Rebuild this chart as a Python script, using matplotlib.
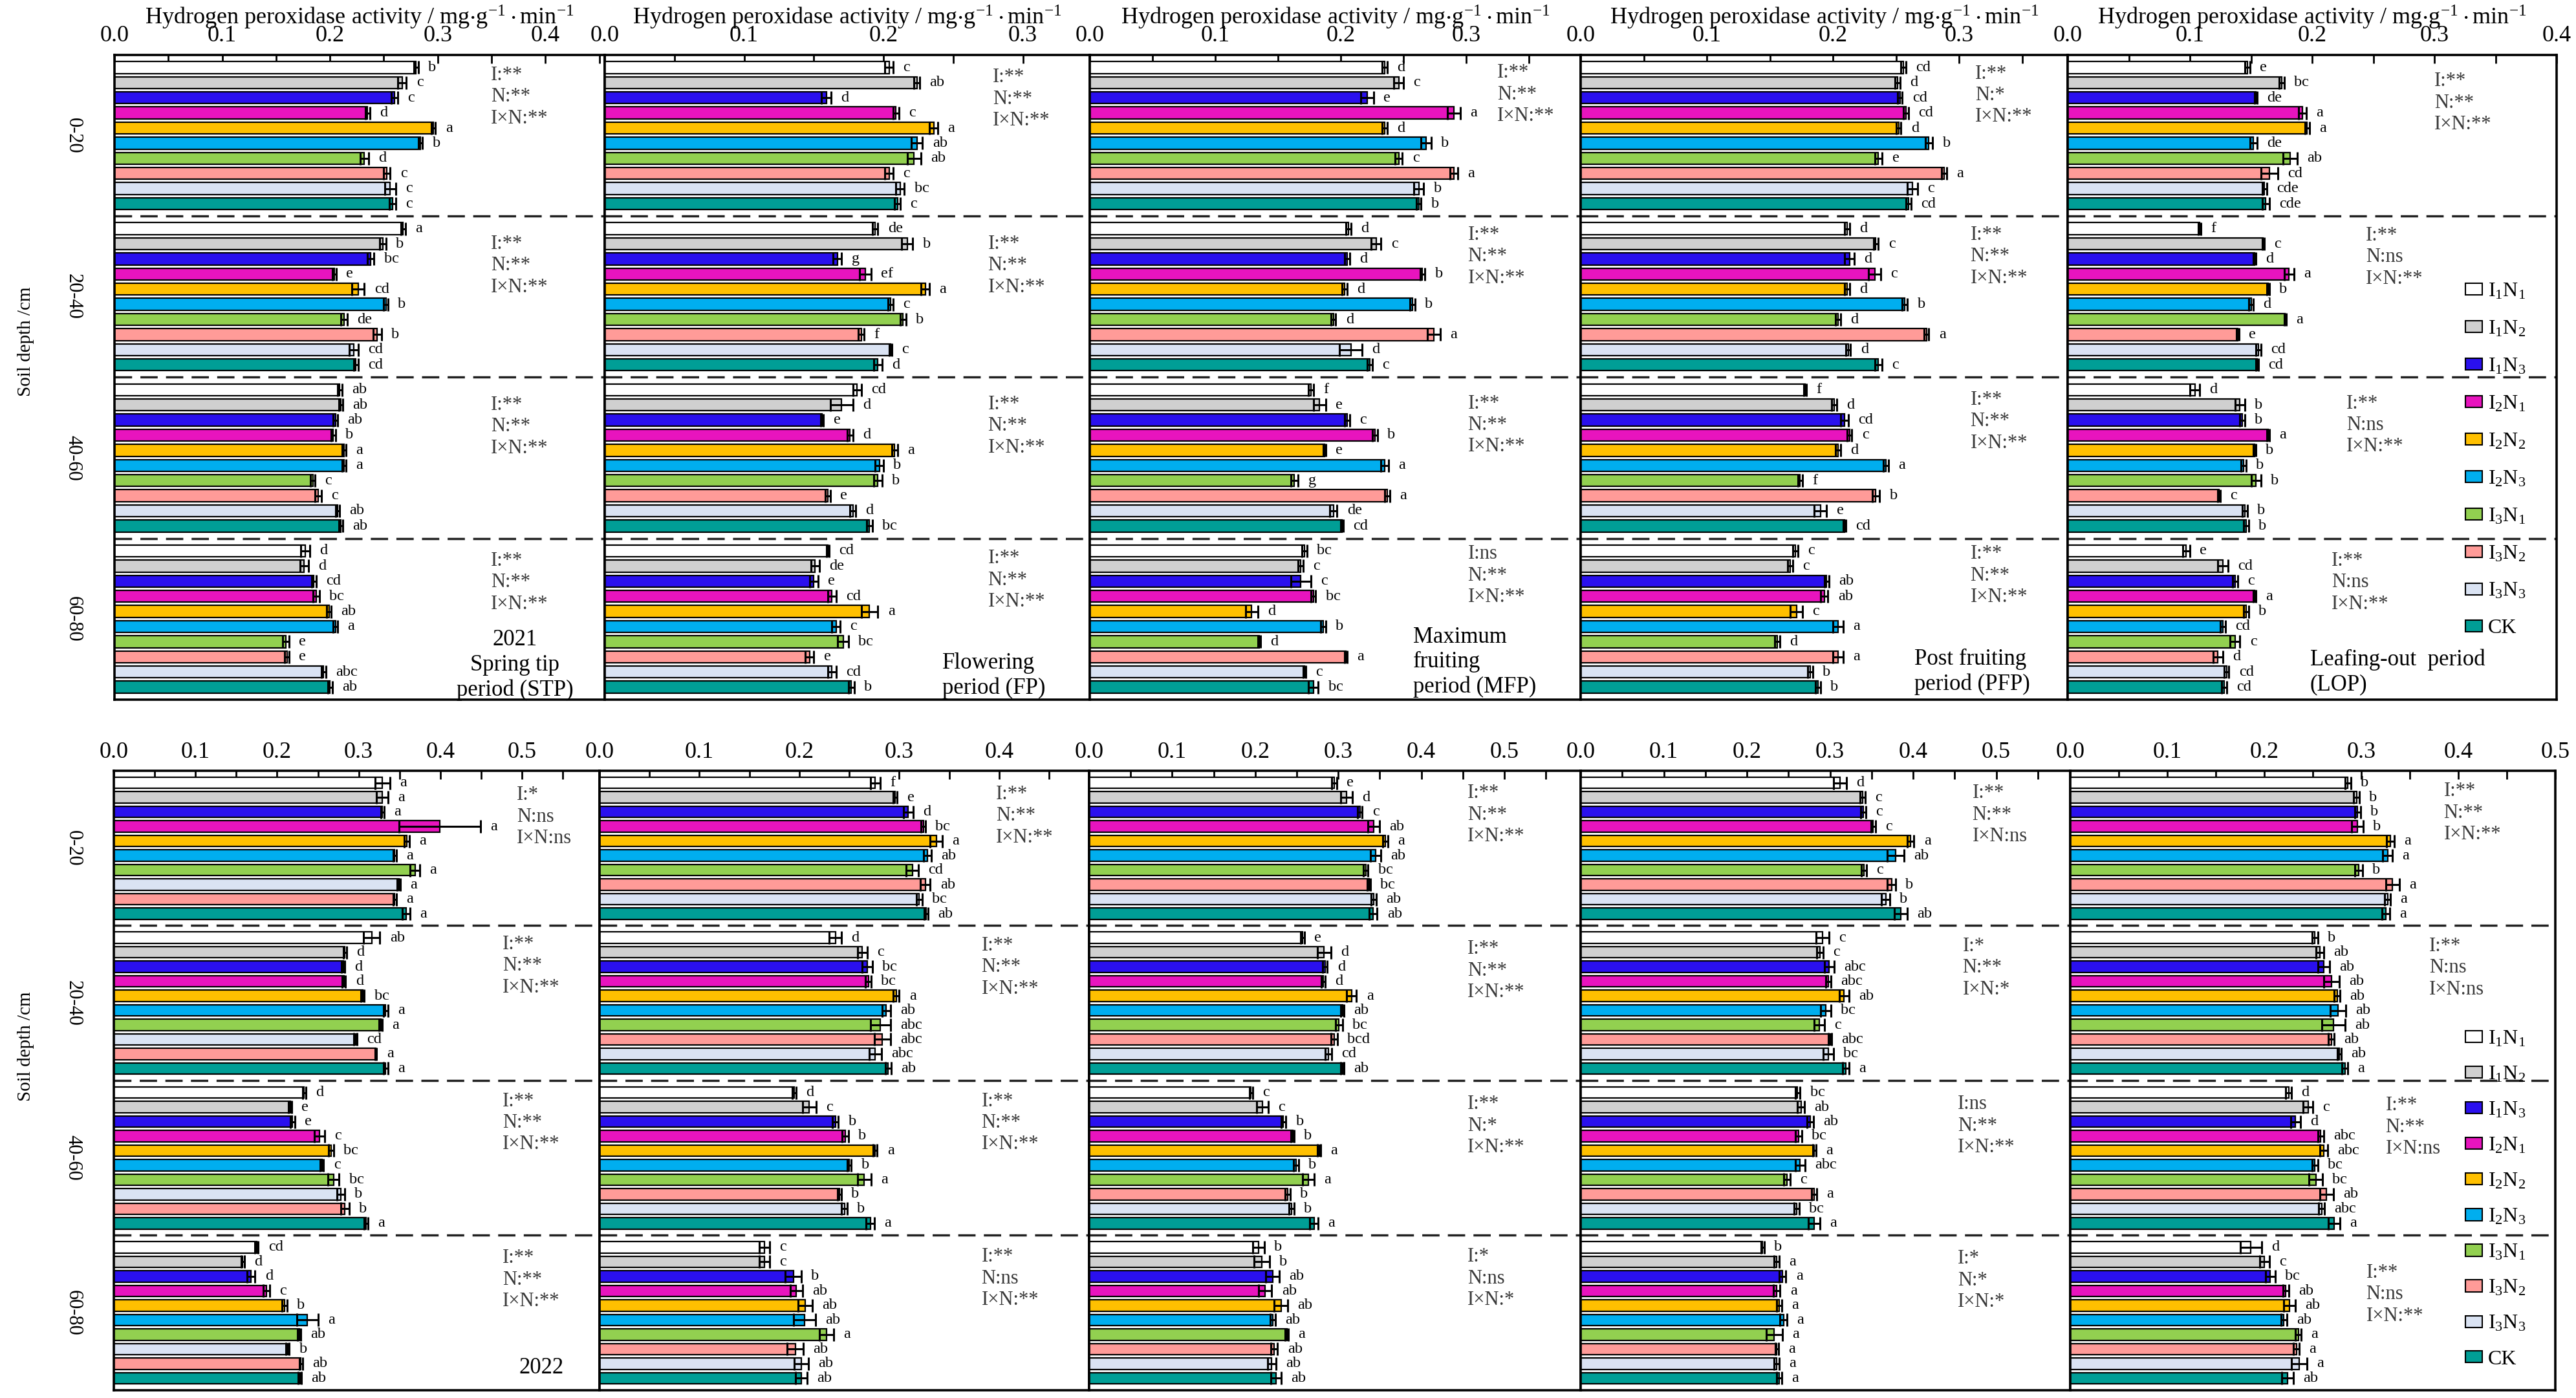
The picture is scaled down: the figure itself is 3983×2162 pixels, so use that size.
import numpy as np
import matplotlib.pyplot as plt
from matplotlib.patches import Patch
from matplotlib.ticker import FormatStrFormatter
from matplotlib.transforms import blended_transform_factory

plt.rcParams['font.family'] = ['Liberation Serif', 'DejaVu Serif']
plt.rcParams['mathtext.fontset'] = 'stix'

treatments = ['I1N1', 'I1N2', 'I1N3', 'I2N1', 'I2N2', 'I2N3', 'I3N1', 'I3N2', 'I3N3', 'CK']
legend_labels = [r'$\mathregular{I_1N_1}$', r'$\mathregular{I_1N_2}$', r'$\mathregular{I_1N_3}$',
                 r'$\mathregular{I_2N_1}$', r'$\mathregular{I_2N_2}$', r'$\mathregular{I_2N_3}$',
                 r'$\mathregular{I_3N_1}$', r'$\mathregular{I_3N_2}$', r'$\mathregular{I_3N_3}$', 'CK']
colors = {'I1N1': '#FFFFFF', 'I1N2': '#D0D0D0', 'I1N3': '#2A10EE', 'I2N1': '#E814BE',
          'I2N2': '#FFC000', 'I2N3': '#00AEEF', 'I3N1': '#92D050', 'I3N2': '#FF9B98',
          'I3N3': '#DAE3F3', 'CK': '#009E96'}
depths = ['0-20', '20-40', '40-60', '60-80']

# ---- 2021 ----
stp_2021 = [[0.280, 0.267, 0.260, 0.235, 0.296, 0.284, 0.232, 0.253, 0.256, 0.258],
            [0.268, 0.249, 0.238, 0.204, 0.226, 0.252, 0.213, 0.244, 0.222, 0.224],
            [0.209, 0.210, 0.205, 0.203, 0.213, 0.213, 0.184, 0.189, 0.207, 0.210],
            [0.177, 0.176, 0.185, 0.187, 0.199, 0.205, 0.159, 0.160, 0.194, 0.200]]
stp_2021_err = [[0.002, 0.004, 0.003, 0.002, 0.002, 0.002, 0.004, 0.003, 0.005, 0.003],
                [0.002, 0.003, 0.003, 0.002, 0.006, 0.002, 0.003, 0.004, 0.004, 0.002],
                [0.002, 0.002, 0.002, 0.002, 0.002, 0.002, 0.002, 0.003, 0.002, 0.002],
                [0.004, 0.004, 0.002, 0.003, 0.002, 0.002, 0.003, 0.002, 0.002, 0.002]]
stp_2021_sig = [['b', 'c', 'c', 'd', 'a', 'b', 'd', 'c', 'c', 'c'],
                ['a', 'b', 'bc', 'e', 'cd', 'b', 'de', 'b', 'cd', 'cd'],
                ['ab', 'ab', 'ab', 'b', 'a', 'a', 'c', 'c', 'ab', 'ab'],
                ['d', 'd', 'cd', 'bc', 'ab', 'a', 'e', 'e', 'abc', 'ab']]
stp_2021_anova = [('**', '**', '**'), ('**', '**', '**'), ('**', '**', '**'), ('**', '**', '**')]

fp_2021 = [[0.204, 0.224, 0.159, 0.209, 0.236, 0.224, 0.222, 0.204, 0.212, 0.210],
           [0.194, 0.217, 0.167, 0.187, 0.230, 0.205, 0.214, 0.184, 0.205, 0.196],
           [0.181, 0.170, 0.156, 0.176, 0.208, 0.197, 0.196, 0.160, 0.178, 0.190],
           [0.160, 0.151, 0.150, 0.163, 0.190, 0.166, 0.171, 0.147, 0.163, 0.177]]
fp_2021_err = [[0.003, 0.002, 0.0035, 0.002, 0.003, 0.004, 0.005, 0.003, 0.003, 0.002],
               [0.002, 0.004, 0.003, 0.004, 0.003, 0.002, 0.002, 0.002, 0.001, 0.003],
               [0.003, 0.008, 0.001, 0.002, 0.002, 0.003, 0.003, 0.002, 0.002, 0.002],
               [0.001, 0.003, 0.003, 0.003, 0.006, 0.003, 0.004, 0.003, 0.003, 0.002]]
fp_2021_sig = [['c', 'ab', 'd', 'c', 'a', 'ab', 'ab', 'c', 'bc', 'c'],
               ['de', 'b', 'g', 'ef', 'a', 'c', 'b', 'f', 'c', 'd'],
               ['cd', 'd', 'e', 'd', 'a', 'b', 'b', 'e', 'd', 'bc'],
               ['cd', 'de', 'e', 'cd', 'a', 'c', 'bc', 'e', 'cd', 'b']]
fp_2021_anova = [('**', '**', '**'), ('**', '**', '**'), ('**', '**', '**'), ('**', '**', '**')]

mfp_2021 = [[0.235, 0.246, 0.221, 0.290, 0.235, 0.268, 0.246, 0.290, 0.262, 0.262],
            [0.206, 0.228, 0.205, 0.265, 0.203, 0.257, 0.194, 0.274, 0.208, 0.223],
            [0.176, 0.183, 0.205, 0.227, 0.187, 0.235, 0.163, 0.237, 0.194, 0.201],
            [0.171, 0.168, 0.168, 0.178, 0.129, 0.186, 0.135, 0.204, 0.171, 0.178]]
mfp_2021_err = [[0.002, 0.004, 0.005, 0.005, 0.002, 0.004, 0.003, 0.003, 0.004, 0.002],
                [0.002, 0.004, 0.002, 0.002, 0.002, 0.002, 0.002, 0.005, 0.009, 0.002],
                [0.002, 0.005, 0.002, 0.002, 0.001, 0.003, 0.003, 0.002, 0.003, 0.001],
                [0.002, 0.002, 0.008, 0.002, 0.005, 0.002, 0.001, 0.001, 0.001, 0.004]]
mfp_2021_sig = [['d', 'c', 'e', 'a', 'd', 'b', 'c', 'a', 'b', 'b'],
                ['d', 'c', 'd', 'b', 'd', 'b', 'd', 'a', 'd', 'c'],
                ['f', 'e', 'c', 'b', 'e', 'a', 'g', 'a', 'de', 'cd'],
                ['bc', 'c', 'c', 'bc', 'd', 'b', 'd', 'a', 'c', 'bc']]
mfp_2021_anova = [('**', '**', '**'), ('**', '**', '**'), ('**', '**', '**'), ('ns', '**', '**')]

pfp_2021 = [[0.256, 0.251, 0.253, 0.258, 0.252, 0.276, 0.236, 0.288, 0.263, 0.260],
            [0.211, 0.234, 0.213, 0.233, 0.211, 0.257, 0.204, 0.274, 0.212, 0.236],
            [0.178, 0.201, 0.209, 0.213, 0.204, 0.242, 0.174, 0.234, 0.190, 0.209],
            [0.170, 0.166, 0.195, 0.193, 0.171, 0.204, 0.156, 0.204, 0.182, 0.188]]
pfp_2021_err = [[0.002, 0.002, 0.002, 0.002, 0.002, 0.003, 0.003, 0.002, 0.004, 0.002],
                [0.002, 0.002, 0.004, 0.005, 0.002, 0.002, 0.002, 0.002, 0.002, 0.003],
                [0.001, 0.002, 0.003, 0.002, 0.002, 0.002, 0.002, 0.003, 0.005, 0.001],
                [0.002, 0.002, 0.002, 0.003, 0.005, 0.004, 0.002, 0.004, 0.002, 0.002]]
pfp_2021_sig = [['cd', 'd', 'cd', 'cd', 'd', 'b', 'e', 'a', 'c', 'cd'],
                ['d', 'c', 'd', 'c', 'd', 'b', 'd', 'a', 'd', 'c'],
                ['f', 'd', 'cd', 'c', 'd', 'a', 'f', 'b', 'e', 'cd'],
                ['c', 'c', 'ab', 'ab', 'c', 'a', 'd', 'a', 'b', 'b']]
pfp_2021_anova = [('**', '*', '**'), ('**', '**', '**'), ('**', '**', '**'), ('**', '**', '**')]

lop_2021 = [[0.147, 0.175, 0.154, 0.192, 0.196, 0.152, 0.182, 0.165, 0.161, 0.162],
            [0.108, 0.160, 0.153, 0.181, 0.164, 0.150, 0.178, 0.139, 0.156, 0.155],
            [0.104, 0.141, 0.143, 0.164, 0.153, 0.144, 0.154, 0.124, 0.145, 0.146],
            [0.097, 0.127, 0.137, 0.153, 0.146, 0.127, 0.137, 0.123, 0.130, 0.128]]
lop_2021_err = [[0.002, 0.002, 0.001, 0.003, 0.002, 0.003, 0.006, 0.007, 0.002, 0.003],
                [0.001, 0.001, 0.001, 0.004, 0.001, 0.002, 0.001, 0.001, 0.002, 0.001],
                [0.004, 0.004, 0.002, 0.001, 0.001, 0.002, 0.004, 0.001, 0.002, 0.002],
                [0.003, 0.004, 0.002, 0.001, 0.002, 0.002, 0.004, 0.004, 0.002, 0.002]]
lop_2021_sig = [['e', 'bc', 'de', 'a', 'a', 'de', 'ab', 'cd', 'cde', 'cde'],
                ['f', 'c', 'd', 'a', 'b', 'd', 'a', 'e', 'cd', 'cd'],
                ['d', 'b', 'b', 'a', 'b', 'b', 'b', 'c', 'b', 'b'],
                ['e', 'cd', 'c', 'a', 'b', 'cd', 'c', 'd', 'cd', 'cd']]
lop_2021_anova = [('**', '**', '**'), ('**', 'ns', '**'), ('**', 'ns', '**'), ('**', 'ns', '**')]

# ---- 2022 ----
stp_2022_order = ['I1N1', 'I1N2', 'I1N3', 'I2N1', 'I2N2', 'I2N3', 'I3N1', 'I3N3', 'I3N2', 'CK']
stp_2022 = [[0.329, 0.329, 0.329, 0.399, 0.359, 0.344, 0.369, 0.349, 0.344, 0.358],
            [0.316, 0.283, 0.281, 0.282, 0.305, 0.333, 0.327, 0.296, 0.321, 0.333],
            [0.233, 0.216, 0.219, 0.252, 0.266, 0.255, 0.269, 0.278, 0.283, 0.309],
            [0.175, 0.158, 0.168, 0.187, 0.209, 0.237, 0.227, 0.213, 0.229, 0.228]]
stp_2022_err = [[0.009, 0.007, 0.002, 0.050, 0.003, 0.002, 0.006, 0.002, 0.002, 0.005],
                [0.010, 0.002, 0.002, 0.002, 0.002, 0.003, 0.002, 0.002, 0.001, 0.003],
                [0.002, 0.002, 0.003, 0.006, 0.003, 0.002, 0.007, 0.005, 0.005, 0.002],
                [0.002, 0.002, 0.005, 0.004, 0.003, 0.013, 0.002, 0.002, 0.002, 0.002]]
stp_2022_sig = [['a', 'a', 'a', 'a', 'a', 'a', 'a', 'a', 'a', 'a'],
                ['ab', 'd', 'd', 'd', 'bc', 'a', 'a', 'cd', 'a', 'a'],
                ['d', 'e', 'e', 'c', 'bc', 'c', 'bc', 'b', 'b', 'a'],
                ['cd', 'd', 'd', 'c', 'b', 'a', 'ab', 'b', 'ab', 'ab']]
stp_2022_anova = [('*', 'ns', 'ns'), ('**', '**', '**'), ('**', '**', '**'), ('**', '**', '**')]

fp_2022 = [[0.276, 0.296, 0.309, 0.324, 0.337, 0.328, 0.313, 0.326, 0.320, 0.327],
           [0.236, 0.263, 0.268, 0.269, 0.297, 0.287, 0.281, 0.283, 0.276, 0.289],
           [0.195, 0.210, 0.236, 0.246, 0.276, 0.250, 0.265, 0.240, 0.245, 0.271],
           [0.165, 0.165, 0.194, 0.197, 0.206, 0.205, 0.227, 0.196, 0.202, 0.202]]
fp_2022_err = [[0.005, 0.002, 0.005, 0.002, 0.006, 0.004, 0.006, 0.005, 0.003, 0.002],
               [0.006, 0.005, 0.005, 0.003, 0.003, 0.004, 0.010, 0.008, 0.006, 0.003],
               [0.002, 0.007, 0.003, 0.003, 0.002, 0.002, 0.007, 0.002, 0.003, 0.004],
               [0.005, 0.005, 0.008, 0.006, 0.007, 0.011, 0.007, 0.008, 0.007, 0.006]]
fp_2022_sig = [['f', 'e', 'd', 'bc', 'a', 'ab', 'cd', 'ab', 'bc', 'ab'],
               ['d', 'c', 'bc', 'bc', 'a', 'ab', 'abc', 'abc', 'abc', 'ab'],
               ['d', 'c', 'b', 'b', 'a', 'b', 'a', 'b', 'b', 'a'],
               ['c', 'c', 'b', 'ab', 'ab', 'ab', 'a', 'ab', 'ab', 'ab']]
fp_2022_anova = [('**', '**', '**'), ('**', '**', '**'), ('**', '**', '**'), ('**', 'ns', '**')]

mfp_2022 = [[0.295, 0.310, 0.326, 0.343, 0.357, 0.345, 0.333, 0.337, 0.343, 0.342],
            [0.257, 0.283, 0.284, 0.282, 0.316, 0.305, 0.301, 0.295, 0.288, 0.305],
            [0.195, 0.209, 0.234, 0.245, 0.277, 0.249, 0.264, 0.239, 0.244, 0.271],
            [0.204, 0.208, 0.221, 0.212, 0.231, 0.221, 0.238, 0.223, 0.220, 0.225]]
mfp_2022_err = [[0.003, 0.007, 0.003, 0.007, 0.003, 0.006, 0.003, 0.002, 0.003, 0.005],
                [0.002, 0.008, 0.003, 0.002, 0.006, 0.002, 0.004, 0.004, 0.004, 0.002],
                [0.002, 0.007, 0.003, 0.002, 0.002, 0.003, 0.007, 0.003, 0.003, 0.005],
                [0.007, 0.009, 0.008, 0.008, 0.008, 0.003, 0.002, 0.004, 0.005, 0.006]]
mfp_2022_sig = [['e', 'd', 'c', 'ab', 'a', 'ab', 'bc', 'bc', 'ab', 'ab'],
                ['e', 'd', 'd', 'd', 'a', 'ab', 'bc', 'bcd', 'cd', 'ab'],
                ['c', 'c', 'b', 'b', 'a', 'b', 'a', 'b', 'b', 'a'],
                ['b', 'b', 'ab', 'ab', 'ab', 'ab', 'a', 'ab', 'ab', 'ab']]
mfp_2022_anova = [('**', '**', '**'), ('**', '**', '**'), ('**', '*', '**'), ('*', 'ns', '*')]

pfp_2022 = [[0.312, 0.339, 0.340, 0.352, 0.397, 0.379, 0.341, 0.374, 0.367, 0.385],
            [0.291, 0.288, 0.299, 0.298, 0.317, 0.295, 0.287, 0.300, 0.298, 0.319],
            [0.261, 0.265, 0.276, 0.262, 0.281, 0.264, 0.248, 0.281, 0.260, 0.281],
            [0.219, 0.236, 0.243, 0.236, 0.239, 0.244, 0.233, 0.236, 0.236, 0.239]]
pfp_2022_err = [[0.008, 0.003, 0.003, 0.003, 0.004, 0.010, 0.003, 0.005, 0.005, 0.008],
                [0.008, 0.004, 0.006, 0.003, 0.006, 0.006, 0.006, 0.002, 0.006, 0.004],
                [0.003, 0.004, 0.004, 0.004, 0.002, 0.006, 0.004, 0.003, 0.003, 0.007],
                [0.002, 0.003, 0.004, 0.004, 0.003, 0.004, 0.010, 0.002, 0.003, 0.003]]
pfp_2022_sig = [['d', 'c', 'c', 'c', 'a', 'ab', 'c', 'b', 'b', 'ab'],
                ['c', 'c', 'abc', 'abc', 'ab', 'bc', 'c', 'abc', 'bc', 'a'],
                ['bc', 'ab', 'ab', 'bc', 'a', 'abc', 'c', 'a', 'bc', 'a'],
                ['b', 'a', 'a', 'a', 'a', 'a', 'a', 'a', 'a', 'a']]
pfp_2022_anova = [('**', '**', 'ns'), ('*', '**', '*'), ('ns', '**', '**'), ('*', '*', '*')]

lop_2022 = [[0.286, 0.295, 0.296, 0.296, 0.330, 0.327, 0.297, 0.332, 0.327, 0.325],
            [0.252, 0.257, 0.261, 0.269, 0.275, 0.276, 0.271, 0.269, 0.277, 0.283],
            [0.225, 0.245, 0.232, 0.258, 0.261, 0.252, 0.253, 0.264, 0.259, 0.272],
            [0.186, 0.200, 0.206, 0.222, 0.226, 0.220, 0.235, 0.233, 0.236, 0.224]]
lop_2022_err = [[0.003, 0.003, 0.003, 0.006, 0.004, 0.005, 0.004, 0.007, 0.003, 0.004],
                [0.003, 0.004, 0.006, 0.008, 0.003, 0.008, 0.012, 0.003, 0.002, 0.003],
                [0.003, 0.005, 0.005, 0.003, 0.004, 0.003, 0.007, 0.007, 0.003, 0.006],
                [0.011, 0.005, 0.005, 0.003, 0.006, 0.003, 0.003, 0.003, 0.008, 0.006]]
lop_2022_sig = [['b', 'b', 'b', 'b', 'a', 'a', 'b', 'a', 'a', 'a'],
                ['b', 'ab', 'ab', 'ab', 'ab', 'ab', 'ab', 'ab', 'ab', 'a'],
                ['d', 'c', 'd', 'abc', 'abc', 'bc', 'bc', 'ab', 'abc', 'a'],
                ['d', 'c', 'bc', 'ab', 'ab', 'ab', 'a', 'a', 'a', 'ab']]
lop_2022_anova = [('**', '**', '**'), ('**', 'ns', 'ns'), ('**', '**', 'ns'), ('**', 'ns', '**')]

# ---- layout (pixels of the 3983 x 2162 canvas) ----
W, H = 3983, 2162
GSTEP = 10.65          # distance between first bars of neighbouring depth groups
BAR_H = 0.78

fig = plt.figure(figsize=(W / 100, H / 100), dpi=100)


def fx(px):
    return px / W


def fy(py):
    return 1 - py / H


def draw_panel(left, right, top, bottom, vals, errs, sigs, anova, order, xmax, last_tick,
               anova_x, anova_y, title=True):
    ax = fig.add_axes([fx(left), fy(bottom), (right - left) / W, (bottom - top) / H])
    tr = blended_transform_factory(ax.transAxes, ax.transData)
    for g in range(4):
        y = g * GSTEP + np.arange(10)
        cols = [colors[t] for t in order]
        ax.barh(y, vals[g], height=BAR_H, color=cols, edgecolor='black', linewidth=1.6,
                xerr=errs[g], error_kw=dict(ecolor='black', elinewidth=2.2, capsize=7, capthick=2.2),
                zorder=2)
        for i in range(10):
            ax.annotate(sigs[g][i], (vals[g][i] + errs[g][i], y[i]), xytext=(11, 0),
                        textcoords='offset points', va='center', ha='left', fontsize=17.5)
        if g < 3:
            ax.axhline(g * GSTEP + 9.82, color='#222222', lw=2.5, dashes=(7.7, 3.7), zorder=1)
        xa = anova_x[g] if isinstance(anova_x, (list, tuple)) else anova_x
        block = '\n'.join(name + s for name, s in zip(['I:', 'N:', 'I×N:'], anova[g]))
        ax.text(xa, g * GSTEP + anova_y[g] + 1.34, block, transform=tr, ha='left', va='center',
                fontsize=22, color='#3a3a3a', linespacing=1.2)
    ax.set_xlim(0, xmax)
    ax.set_ylim(3 * GSTEP + 9 + 0.83, -0.83)
    ax.xaxis.tick_top()
    ax.set_xticks(np.arange(0, last_tick + 0.001, 0.1))
    ax.set_xticks(np.arange(0.05, xmax - 0.001, 0.1), minor=True)
    ax.xaxis.set_major_formatter(FormatStrFormatter('%.1f'))
    ax.tick_params(axis='x', which='both', direction='in', top=True, bottom=False,
                   labeltop=True, labelbottom=False, length=9, width=2, pad=9, labelsize=26)
    ax.set_yticks([])
    for sp in ax.spines.values():
        sp.set_linewidth(2.6)
    if title:
        ax.xaxis.set_label_position('top')
        ax.set_xlabel(r'Hydrogen peroxidase activity / mg$\cdot$g$^{\mathregular{-1}}\cdot$min$^{\mathregular{-1}}$',
                      fontsize=26, labelpad=2)
    return ax


top_edges = [177, 935, 1685, 2444, 3197, 3953]
bot_edges = [176, 927, 1684, 2444, 3201, 3951]
TOP_T, TOP_B = 85, 1082
BOT_T, BOT_B = 1192, 2150

top_panels = [
    (stp_2021, stp_2021_err, stp_2021_sig, stp_2021_anova, treatments, 0.455, 0.4, 0.768, [0.6, 1.1, 1.1, 0.75]),
    (fp_2021, fp_2021_err, fp_2021_sig, fp_2021_anova, treatments, 0.348, 0.3, [0.80, 0.79, 0.79, 0.79], [0.75, 1.1, 1.05, 0.6]),
    (mfp_2021, mfp_2021_err, mfp_2021_sig, mfp_2021_anova, treatments, 0.391, 0.3, [0.83, 0.77, 0.77, 0.77], [0.45, 0.5, 1.0, 0.3]),
    (pfp_2021, pfp_2021_err, pfp_2021_sig, pfp_2021_anova, treatments, 0.386, 0.3, [0.81, 0.80, 0.80, 0.80], [0.5, 0.5, 0.75, 0.3]),
    (lop_2021, lop_2021_err, lop_2021_sig, lop_2021_anova, treatments, 0.400, 0.4, [0.75, 0.61, 0.57, 0.54], [1.0, 0.55, 1.0, 0.75]),
]
bot_panels = [
    (stp_2022, stp_2022_err, stp_2022_sig, stp_2022_anova, stp_2022_order, 0.595, 0.5, [0.83, 0.80, 0.80, 0.80], [1.0, 0.6, 0.75, 0.9]),
    (fp_2022, fp_2022_err, fp_2022_sig, fp_2022_anova, treatments, 0.490, 0.4, [0.81, 0.78, 0.78, 0.78], [0.93, 0.7, 0.75, 0.8]),
    (mfp_2022, mfp_2022_err, mfp_2022_sig, mfp_2022_anova, treatments, 0.592, 0.5, 0.77, [0.87, 0.93, 0.96, 0.8]),
    (pfp_2022, pfp_2022_err, pfp_2022_sig, pfp_2022_anova, treatments, 0.589, 0.5, [0.80, 0.78, 0.77, 0.77], [0.87, 0.73, 0.96, 0.93]),
    (lop_2022, lop_2022_err, lop_2022_sig, lop_2022_anova, treatments, 0.500, 0.5, [0.77, 0.74, 0.65, 0.61], [0.73, 0.73, 1.05, 1.9]),
]

top_axes = []
for k, p in enumerate(top_panels):
    top_axes.append(draw_panel(top_edges[k], top_edges[k + 1], TOP_T, TOP_B, *p, title=True))
bot_axes = []
for k, p in enumerate(bot_panels):
    bot_axes.append(draw_panel(bot_edges[k], bot_edges[k + 1], BOT_T, BOT_B, *p, title=False))

# period notes (one text block each)
g3 = 3 * GSTEP
notes = [
    (top_axes[0], '2021\nSpring tip\nperiod (STP)', 0.817, 7.55, 'center'),
    (top_axes[1], 'Flowering\nperiod (FP)', 0.696, 8.25, 'left'),
    (top_axes[2], 'Maximum\nfruiting\nperiod (MFP)', 0.659, 7.35, 'left'),
    (top_axes[3], 'Post fruiting\nperiod (PFP)', 0.685, 8.0, 'left'),
    (top_axes[4], 'Leafing-out  period\n(LOP)', 0.496, 8.0, 'left'),
    (bot_axes[0], '2022', 0.88, 8.3, 'center'),
]
for ax, txt, xa, ys, ha in notes:
    tr = blended_transform_factory(ax.transAxes, ax.transData)
    ax.text(xa, g3 + ys, txt, transform=tr, ha=ha, va='center', multialignment=ha,
            fontsize=25, linespacing=1.22)

# y labels
for (t, b) in [(TOP_T, TOP_B), (BOT_T, BOT_B)]:
    span = b - t
    total = 3 * GSTEP + 9 + 1.66
    fig.text(fx(40), fy(t + 0.445 * span), 'Soil depth /cm', rotation=90, ha='center', va='center', fontsize=21)
    for g, d in enumerate(depths):
        yc = (g * GSTEP + 4.5 + 0.83) / total
        fig.text(fx(113), fy(t + yc * span), d, rotation=270, ha='center', va='center', fontsize=22)

# legends
handles = [Patch(facecolor=colors[t], edgecolor='black', linewidth=1.5) for t in treatments]
top_axes[4].legend(handles, legend_labels, loc='upper left', bbox_to_anchor=(fx(3812), fy(436)),
                   bbox_transform=fig.transFigure, frameon=False, fontsize=23, handlelength=0.8,
                   handleheight=0.5, handletextpad=0.3, labelspacing=0.89, borderpad=0, borderaxespad=0)
bot_axes[4].legend(handles, legend_labels, loc='upper left', bbox_to_anchor=(fx(3812), fy(1592)),
                   bbox_transform=fig.transFigure, frameon=False, fontsize=23, handlelength=0.8,
                   handleheight=0.5, handletextpad=0.3, labelspacing=0.80, borderpad=0, borderaxespad=0)

fig.savefig('out.png', dpi=100)
